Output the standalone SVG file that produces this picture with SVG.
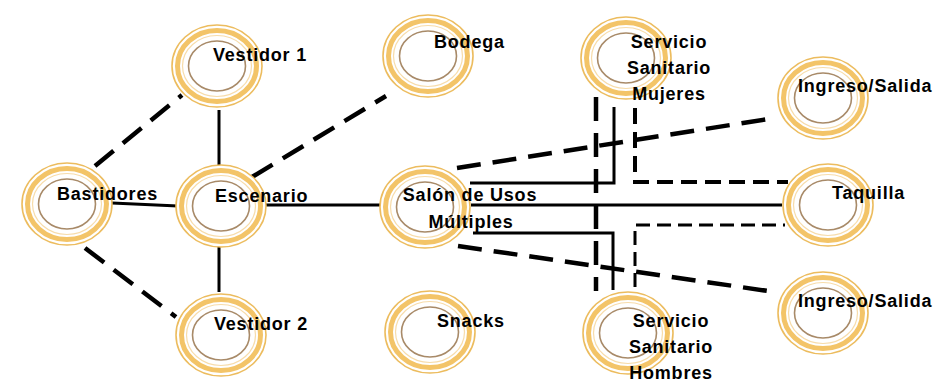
<svg xmlns="http://www.w3.org/2000/svg" xmlns:xlink="http://www.w3.org/1999/xlink" width="950" height="383" viewBox="0 0 950 383">
<style>
.lbl{font-family:"Liberation Sans",Arial,sans-serif;font-weight:bold;font-size:18px;letter-spacing:0.8px;fill:#000}
.mid{text-anchor:middle}
.solid{fill:none;stroke:#000;stroke-width:3}
.dash{fill:none;stroke:#000;stroke-width:4.5;stroke-dasharray:24 12}
.dashm{fill:none;stroke:#000;stroke-width:4;stroke-dasharray:16 8}
.dasht{fill:none;stroke:#000;stroke-width:3;stroke-dasharray:14 7}
</style>
<defs>
<g id="ring">
<ellipse rx="45" ry="41" fill="#fff" stroke="#ecbc5e" stroke-width="1.6"/>
<ellipse rx="39.5" ry="35.5" fill="none" stroke="#f3c468" stroke-width="5"/>
<ellipse rx="34.5" ry="30.5" fill="none" stroke="#f7dcaa" stroke-width="1.2"/>
<ellipse rx="28.5" ry="25" fill="none" stroke="#a88a68" stroke-width="1.6"/>
</g>
</defs>
<rect width="950" height="383" fill="#fff"/>
<g id="connectors">
<path class="dash" d="M95,166 L182,95"/>
<path class="dash" d="M85,248 L176,317"/>
<path class="solid" d="M112,203 L178,206"/>
<path class="solid" d="M219,110 L219,165"/>
<path class="solid" d="M219,246 L219,292"/>
<path class="dash" d="M252,177 L386,96"/>
<path class="solid" d="M266,205 L383,205"/>
<path class="dash" d="M457,168 L775,118"/>
<path class="solid" d="M471,205 L782,205"/>
<path class="solid" d="M470,183 H614 V107"/>
<path class="solid" d="M473,233 H613 V290"/>
<path class="dash" d="M596,97 V291"/>
<path class="dashm" d="M635,108 V182 H788"/>
<path class="dasht" d="M635,287 V225 H785"/>
<path class="dash" d="M458,246 L775,292"/>
</g>
<g id="node-bastidores"><use xlink:href="#ring" href="#ring" x="67" y="204"/><text class="lbl" x="57" y="200">Bastidores</text></g>
<g id="node-escenario"><use xlink:href="#ring" href="#ring" x="221" y="206"/><text class="lbl" x="215" y="202">Escenario</text></g>
<g id="node-vestidor1"><use xlink:href="#ring" href="#ring" x="217" y="66"/><text class="lbl" x="213" y="61">Vestidor 1</text></g>
<g id="node-vestidor2"><use xlink:href="#ring" href="#ring" x="221" y="335"/><text class="lbl" x="214" y="330">Vestidor 2</text></g>
<g id="node-bodega"><use xlink:href="#ring" href="#ring" x="428" y="56"/><text class="lbl" x="434" y="48">Bodega</text></g>
<g id="node-salon"><use xlink:href="#ring" href="#ring" x="425" y="207"/><text class="lbl mid" x="470" y="201">Salón de Usos</text><text class="lbl mid" x="471" y="228">Múltiples</text></g>
<g id="node-snacks"><use xlink:href="#ring" href="#ring" x="430" y="332"/><text class="lbl" x="437" y="327">Snacks</text></g>
<g id="node-ss-mujeres"><use xlink:href="#ring" href="#ring" x="626" y="58"/><text class="lbl mid" x="669" y="48">Servicio</text><text class="lbl mid" x="669" y="74">Sanitario</text><text class="lbl mid" x="669" y="100">Mujeres</text></g>
<g id="node-ss-hombres"><use xlink:href="#ring" href="#ring" x="628" y="333"/><text class="lbl mid" x="671" y="327">Servicio</text><text class="lbl mid" x="671" y="353">Sanitario</text><text class="lbl mid" x="671" y="379">Hombres</text></g>
<g id="node-ingreso1"><use xlink:href="#ring" href="#ring" x="823" y="98"/><text class="lbl" x="798" y="92">Ingreso/Salida</text></g>
<g id="node-taquilla"><use xlink:href="#ring" href="#ring" x="828" y="205"/><text class="lbl" x="832" y="199">Taquilla</text></g>
<g id="node-ingreso2"><use xlink:href="#ring" href="#ring" x="823" y="313"/><text class="lbl" x="798" y="307">Ingreso/Salida</text></g>
</svg>
